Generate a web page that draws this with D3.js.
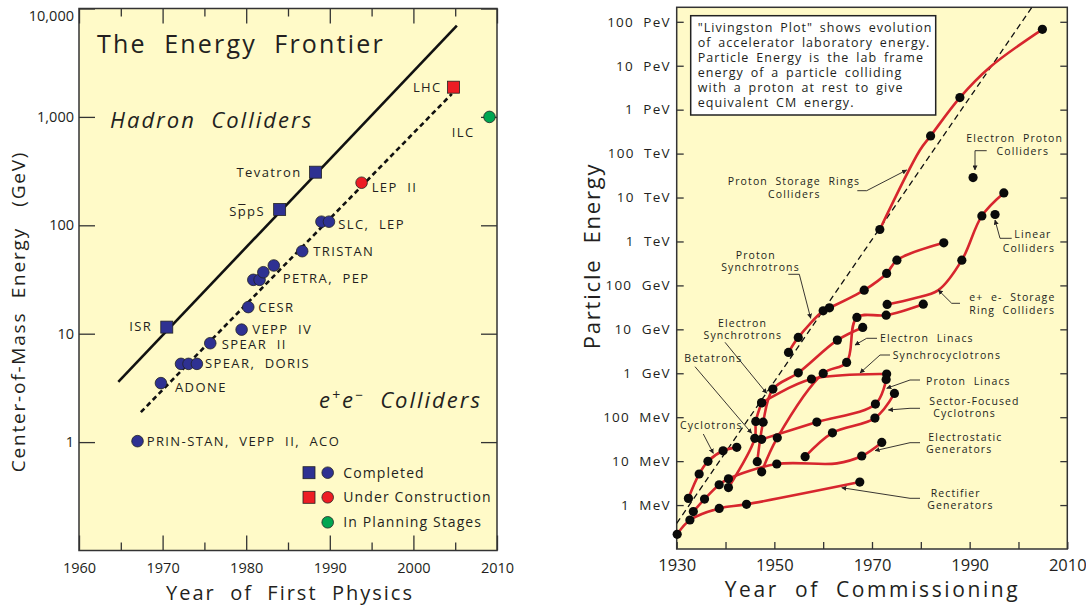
<!DOCTYPE html>
<html>
<head>
<meta charset="utf-8">
<script src="https://cdn.jsdelivr.net/npm/d3@7"></script>
<style>
  body { margin: 0; background: #fff; }
  text { font-family: "Open Sans", sans-serif; fill: #231f20; }
</style>
</head>
<body>
<svg id="chart" width="1086" height="605"></svg>
<script>
// ---------- left panel: the energy frontier ----------
const hadronNames = ["ISR", "SppS", "Tevatron", "LHC"];
const hadronYears = [1970.5, 1984.0, 1988.3, 2004.8];
const hadronGeV = [11.5, 140, 309, 1880];
const hadronStatus = ["done", "done", "done", "building"];

const leptonYears = [1967.0, 1969.8, 1972.2, 1973.1, 1974.1, 1975.7, 1979.45, 1980.25,
  1980.85, 1981.6, 1982.05, 1983.3, 1986.7, 1989.0, 1989.9, 1993.8, 2009.1];
const leptonGeV = [1.02, 3.5, 5.27, 5.27, 5.27, 8.17, 10.9, 17.6,
  31.4, 31.4, 36.9, 42.6, 57.7, 108, 108, 247, 1000];
const leptonStatus = ["done", "done", "done", "done", "done", "done", "done", "done",
  "done", "done", "done", "done", "done", "done", "done", "building", "planned"];

const hadronTrendYears = [1964.7, 2005.2];
const hadronTrendGeV = [3.6, 6950];
const leptonTrendYears = [1967.4, 2004.6];
const leptonTrendGeV = [1.89, 1633];

const frontierYearTicks = [1960, 1970, 1980, 1990, 2000, 2010];
const frontierMinorTicks = [1965, 1975, 1985, 1995, 2005];
const frontierGeVTicks = [1, 10, 100, 1000, 10000];
const frontierGeVLabels = ["1", "10", "100", "1,000", "10,000"];
const legendLabels = ["Completed", "Under Construction", "In Planning Stages"];

// ---------- right panel: livingston plot (year, MeV, 0 = no dot) ----------
const rectifierGenerators = [[1930.1, 0.216], [1932.7, 0.457], [1938.7, 0.84], [1944.3, 1.04], [1967.5, 3.34]];
const electrostaticGenerators = [[1933.4, 0.71], [1935.7, 1.37], [1938.7, 2.9], [1940.6, 3.97], [1950.5, 8.6],
  [1962.8, 8.9, 0], [1967.9, 13.1], [1972.0, 26.7]];
const cyclotrons = [[1932.4, 1.42], [1934.6, 5.1], [1936.4, 9.9], [1939.5, 17.2], [1942.3, 20.6]];
const betatrons = [[1940.6, 2.5], [1946.0, 33], [1946.2, 80], [1947.4, 213]];
const synchrocyclotrons = [[1947.4, 213], [1957.6, 736], [1973.0, 957]];
const electronSynchrotrons = [[1946.5, 9.7], [1947.7, 77], [1949.7, 436], [1954.9, 1025], [1962.9, 5680], [1968.1, 11040]];
const electronLinacs = [[1947.4, 5.7], [1950.6, 34], [1960.0, 993], [1964.8, 1766], [1966.9, 18660], [1972.9, 21000], [1980.5, 37400]];
const protonLinacs = [[1947.4, 31.3], [1958.7, 77.4], [1970.7, 199], [1972.9, 725]];
const sectorCyclotrons = [[1956.3, 12.6], [1961.9, 44.2], [1970.6, 95.5], [1974.6, 348]];
const protonSynchrotrons = [[1952.9, 2985], [1954.9, 6546], [1960.0, 26360], [1961.3, 30830], [1968.4, 78000],
  [1973.0, 187000], [1975.1, 375000], [1984.7, 929000]];
const protonStorageRings = [[1971.6, 1.87e6], [1979.8, 1.19e8, 0], [1982.0, 2.52e8], [1988.0, 1.88e9],
  [1994.2, 9.36e9, 0], [2004.9, 6.74e10]];
const eeStorageRings = [[1973.1, 36800], [1978.5, 50400, 0], [1983.6, 78000, 0], [1988.4, 375000], [1992.5, 3.82e6], [1997.0, 1.27e7]];
const electronProtonColliders = [[1990.7, 2.85e7]];
const linearColliders = [[1995.2, 4.11e6]];

const livingstonTrendYears = [1930, 2002.7];
const livingstonTrendMeV = [0.385, 2.1e11];

const commissionTicks = [1930, 1940, 1950, 1960, 1970, 1980, 1990, 2000, 2010];
const energyTicks = [1, 10, 100, 1e3, 1e4, 1e5, 1e6, 1e7, 1e8, 1e9, 1e10, 1e11];
const energyTickLabels = ["1  MeV", "10  MeV", "100  MeV", "1  GeV", "10  GeV", "100  GeV",
  "1  TeV", "10  TeV", "100  TeV", "1  PeV", "10  PeV", "100  PeV"];

const infoLines = ["\"Livingston Plot\" shows evolution", "of accelerator laboratory energy.",
  "Particle Energy is the lab frame", "energy of a particle colliding",
  "with a proton at rest to give", "equivalent CM energy."];

const bg = "#fffac8";
const ink = "#231f20";
const statusColor = { done: "#2e3192", building: "#ed1c24", planned: "#00a651" };
const curveRed = "#d7262e";

const svg = d3.select("#chart");
const defs = svg.append("defs");
defs.append("marker")
  .attr("id", "arrow")
  .attr("viewBox", "0 0 6 6")
  .attr("refX", 5.5).attr("refY", 3)
  .attr("markerWidth", 5).attr("markerHeight", 5)
  .attr("markerUnits", "userSpaceOnUse")
  .attr("orient", "auto")
  .append("path").attr("d", "M0,0 L6,3 L0,6 z").attr("fill", ink);

// ================= LEFT PANEL =================
const xL = d3.scaleLinear().domain([1960, 2010]).range([79, 497]);
const yL = d3.scaleLog().domain([0.1, 1e4]).range([550.5, 8.5]);
const gL = svg.append("g");

gL.append("rect")
  .attr("x", xL(1960)).attr("y", yL(1e4))
  .attr("width", xL(2010) - xL(1960)).attr("height", yL(0.1) - yL(1e4))
  .attr("fill", bg);

function styleAxis(g, size) {
  g.select(".domain").remove();
  g.selectAll("line").attr("stroke", "#333").attr("stroke-width", 1.3);
  g.selectAll("text").attr("fill", ink).style("font-family", "'Open Sans', sans-serif").style("font-size", size + "px");
}

gL.append("g").attr("transform", `translate(0,${yL(0.1)})`)
  .call(d3.axisBottom(xL).tickValues(frontierYearTicks).tickSize(-15).tickPadding(12).tickFormat(d3.format("d")))
  .call(g => styleAxis(g, 14.5));
gL.append("g").attr("transform", `translate(0,${yL(0.1)})`)
  .call(d3.axisBottom(xL).tickValues(frontierMinorTicks).tickSize(-8).tickFormat(""))
  .call(g => styleAxis(g, 14));
gL.append("g").attr("transform", `translate(0,${yL(1e4)})`)
  .call(d3.axisTop(xL).tickValues(frontierYearTicks).tickSize(-15).tickFormat(""))
  .call(g => styleAxis(g, 14));
gL.append("g").attr("transform", `translate(0,${yL(1e4)})`)
  .call(d3.axisTop(xL).tickValues(frontierMinorTicks).tickSize(-8).tickFormat(""))
  .call(g => styleAxis(g, 14));
gL.append("g").attr("transform", `translate(${xL(1960)},0)`)
  .call(d3.axisLeft(yL).tickValues(frontierGeVTicks).tickSize(-16).tickPadding(5)
    .tickFormat((d, i) => frontierGeVLabels[i]))
  .call(g => styleAxis(g, 14.5))
  .call(g => g.selectAll(".tick").filter(d => d === 1e4).select("text").attr("dy", "0.85em"));
gL.append("g").attr("transform", `translate(${xL(2010)},0)`)
  .call(d3.axisRight(yL).tickValues(frontierGeVTicks).tickSize(-16).tickFormat(""))
  .call(g => styleAxis(g, 14));

gL.append("rect")
  .attr("x", xL(1960)).attr("y", yL(1e4))
  .attr("width", xL(2010) - xL(1960)).attr("height", yL(0.1) - yL(1e4))
  .attr("fill", "none").attr("stroke", "#333").attr("stroke-width", 1.5);

const lineL = d3.line().x(d => xL(d[0])).y(d => yL(d[1]));
gL.append("path").datum(d3.zip(hadronTrendYears, hadronTrendGeV))
  .attr("d", lineL).attr("fill", "none").attr("stroke", "#111").attr("stroke-width", 2.6);
gL.append("path").datum(d3.zip(leptonTrendYears, leptonTrendGeV))
  .attr("d", lineL).attr("fill", "none").attr("stroke", "#111").attr("stroke-width", 2.6)
  .attr("stroke-dasharray", "5,3.5");

const hadrons = hadronNames.map((n, i) => ({ name: n, year: hadronYears[i], gev: hadronGeV[i], status: hadronStatus[i] }));
gL.selectAll("rect.hadron").data(hadrons).enter().append("rect")
  .attr("class", "hadron")
  .attr("x", d => xL(d.year) - 6).attr("y", d => yL(d.gev) - 6)
  .attr("width", 12).attr("height", 12)
  .attr("fill", d => statusColor[d.status]).attr("stroke", "#222").attr("stroke-width", 0.8);

const leptons = leptonYears.map((y, i) => ({ year: y, gev: leptonGeV[i], status: leptonStatus[i] }));
gL.selectAll("circle.lepton").data(leptons).enter().append("circle")
  .attr("class", "lepton")
  .attr("cx", d => xL(d.year)).attr("cy", d => yL(d.gev)).attr("r", 5.8)
  .attr("fill", d => statusColor[d.status]).attr("stroke", "#222").attr("stroke-width", 0.8);

function label(g, txt, x, y, anchor, size, spacing) {
  return g.append("text").attr("x", x).attr("y", y)
    .attr("text-anchor", anchor || "start")
    .style("font-size", (size || 13) + "px")
    .style("letter-spacing", (spacing === undefined ? 1.4 : spacing) + "px")
    .style("white-space", "pre")
    .text(txt);
}

label(gL, "The  Energy  Frontier", 97, 53, "start", 25, 2.2);
label(gL, "Hadron  Colliders", 110, 128, "start", 22, 2).style("font-style", "italic");
const ee = gL.append("text").attr("x", 319).attr("y", 408)
  .style("font-size", "22px").style("font-style", "italic").style("letter-spacing", "2px").style("white-space", "pre");
ee.append("tspan").text("e");
ee.append("tspan").attr("dy", -8).style("font-size", "14px").text("+");
ee.append("tspan").attr("dy", 8).text("e");
ee.append("tspan").attr("dy", -8).style("font-size", "14px").text("\u2212");
ee.append("tspan").attr("dy", 8).text("  Colliders");

label(gL, "Tevatron", 301.7, 176.7, "end");
label(gL, "LHC", 441.7, 91.7, "end");
label(gL, "ILC", 451.7, 136.7);
label(gL, "LEP  II", 371.7, 191.7);
// SppS with a bar over the first p
const sps = label(gL, "SppS", 265, 216, "end");
{
  const node = sps.node();
  const p0 = node.getStartPositionOfChar(1), p1 = node.getEndPositionOfChar(1);
  gL.append("line")
    .attr("x1", p0.x + 0.5).attr("x2", p1.x - 1.6)
    .attr("y1", 216 - 11.5).attr("y2", 216 - 11.5)
    .attr("stroke", ink).attr("stroke-width", 1);
}
label(gL, "SLC,  LEP", 338.3, 229.3);
label(gL, "TRISTAN", 313.3, 256);
label(gL, "PETRA,  PEP", 282.7, 283.3);
label(gL, "CESR", 258.3, 311.7);
label(gL, "VEPP  IV", 252.3, 334);
label(gL, "SPEAR  II", 221.7, 349.3);
label(gL, "SPEAR,  DORIS", 205, 368.3);
label(gL, "ADONE", 175, 391.7);
label(gL, "PRIN-STAN,  VEPP  II,  ACO", 146.7, 446);
label(gL, "ISR", 152.3, 330.7, "end");

// legend
const legendRowsY = [472.7, 497.3, 522.3];
const legendSquare = ["done", "building", null];
const legendCircle = ["done", "building", "planned"];
legendLabels.forEach((t, i) => {
  if (legendSquare[i]) {
    gL.append("rect").attr("x", 303).attr("y", legendRowsY[i] - 6).attr("width", 12).attr("height", 12)
      .attr("fill", statusColor[legendSquare[i]]).attr("stroke", "#222").attr("stroke-width", 0.8);
  }
  gL.append("circle").attr("cx", 327.7).attr("cy", legendRowsY[i]).attr("r", 5.8)
    .attr("fill", statusColor[legendCircle[i]]).attr("stroke", "#222").attr("stroke-width", 0.8);
  label(gL, t, 343.3, legendRowsY[i] + 5, "start", 14, 1.1);
});

label(gL, "Year  of  First  Physics", 290, 600, "middle", 20, 2);
label(gL, "Center-of-Mass  Energy   (GeV)", 0, 0, "middle", 19, 1.8)
  .attr("transform", "translate(25,311.5) rotate(-90)");

// ================= RIGHT PANEL =================
const xR = d3.scaleLinear().domain([1930, 2010]).range([676.7, 1067.3]);
const yR = d3.scaleLog().domain([0.1, Math.pow(10, 11.33)]).range([549, 7.3]);
const gR = svg.append("g");

gR.append("rect")
  .attr("x", xR(1930)).attr("y", yR.range()[1])
  .attr("width", xR(2010) - xR(1930)).attr("height", yR.range()[0] - yR.range()[1])
  .attr("fill", bg);

gR.append("g").attr("transform", `translate(0,${yR.range()[0]})`)
  .call(d3.axisBottom(xR).tickValues(commissionTicks).tickSize(-7).tickPadding(10)
    .tickFormat(d => (d % 20 === 10 ? d : "")))
  .call(g => styleAxis(g, 16.5));
gR.append("g").attr("transform", `translate(${xR(1930)},0)`)
  .call(d3.axisLeft(yR).tickValues(energyTicks).tickSize(-7).tickPadding(6)
    .tickFormat((d, i) => energyTickLabels[i]))
  .call(g => styleAxis(g, 13.5))
  .call(g => g.selectAll("text").style("letter-spacing", "1.2px").style("white-space", "pre"));
gR.append("g").attr("transform", `translate(${xR(2010)},0)`)
  .call(d3.axisRight(yR).tickValues(energyTicks).tickSize(-7).tickFormat(""))
  .call(g => styleAxis(g, 13));

gR.append("rect")
  .attr("x", xR(1930)).attr("y", yR.range()[1])
  .attr("width", xR(2010) - xR(1930)).attr("height", yR.range()[0] - yR.range()[1])
  .attr("fill", "none").attr("stroke", "#333").attr("stroke-width", 1.5);

defs.append("clipPath").attr("id", "clipR").append("rect")
  .attr("x", xR(1930)).attr("y", yR.range()[1])
  .attr("width", xR(2010) - xR(1930)).attr("height", yR.range()[0] - yR.range()[1]);

const lineTrend = d3.line().x(d => xR(d[0])).y(d => yR(d[1]));
gR.append("path").datum(d3.zip(livingstonTrendYears, livingstonTrendMeV))
  .attr("clip-path", "url(#clipR)")
  .attr("d", lineTrend).attr("fill", "none").attr("stroke", "#111").attr("stroke-width", 1.3)
  .attr("stroke-dasharray", "6,4");

const families = [rectifierGenerators, electrostaticGenerators, cyclotrons, betatrons, synchrocyclotrons,
  electronSynchrotrons, electronLinacs, protonLinacs, sectorCyclotrons, protonSynchrotrons,
  protonStorageRings, eeStorageRings];
const curveR = d3.line().x(d => xR(d[0])).y(d => yR(d[1])).curve(d3.curveCatmullRom.alpha(0.5));
gR.append("g").selectAll("path").data(families).enter().append("path")
  .attr("d", curveR).attr("fill", "none").attr("stroke", curveRed).attr("stroke-width", 2.6)
  .attr("stroke-linecap", "round");

const dots = families.concat([electronProtonColliders, linearColliders]).flat().filter(d => d[2] !== 0);
gR.append("g").selectAll("circle").data(dots).enter().append("circle")
  .attr("cx", d => xR(d[0])).attr("cy", d => yR(d[1])).attr("r", 4.6).attr("fill", "#0a0a0a");

// info box
gR.append("rect").attr("x", 690.7).attr("y", 15.7).attr("width", 245).attr("height", 99.3)
  .attr("fill", "#fff").attr("stroke", "#222").attr("stroke-width", 1.5);
infoLines.forEach((t, i) => label(gR, t, 697.7, 31.7 + i * 15, "start", 12.5, 1.05)
  .style("word-spacing", "2.5px"));

// curve labels and pointers
const rl = (t, x, y, a) => label(gR, t, x, y, a || "start", 10.5, 1.1);
function pointer(pts) {
  gR.append("path").attr("d", d3.line()(pts)).attr("fill", "none")
    .attr("stroke", ink).attr("stroke-width", 0.9).attr("marker-end", "url(#arrow)");
}
rl("Electron  Proton", 1014.7, 141.7, "middle");
rl("Colliders", 1022.8, 155, "middle");
pointer([[986.7, 150.7], [975, 150.7], [975, 170]]);

rl("Proton  Storage  Rings", 794, 185, "middle");
rl("Colliders", 794.3, 197.5, "middle");
pointer([[857.3, 190.7], [866.7, 190.7], [906.7, 170]]);

rl("Proton", 755.8, 259, "middle");
rl("Synchrotrons", 760.5, 271, "middle");
pointer([[788.3, 274.3], [799.3, 274.3], [810.7, 318.3]]);

rl("Electron", 742.5, 327, "middle");
rl("Synchrotrons", 742.8, 339, "middle");
pointer([[725, 342.3], [766.7, 393.3]]);

rl("Betatrons", 684.3, 361.7);
pointer([[695, 366.7], [751.7, 433.3]]);

rl("Cyclotrons", 680, 429);
pointer([[703.3, 434], [713.3, 453.3]]);

rl("Electron  Linacs", 880, 341.7);
pointer([[877, 338.3], [866.7, 338.3], [855, 345]]);

rl("Synchrocyclotrons", 892.7, 359.3);
pointer([[890, 355], [880, 355], [860, 373]]);

rl("Proton  Linacs", 926, 385);
pointer([[920, 380], [910, 380], [886.7, 388.3]]);

rl("Sector-Focused", 929.3, 405);
rl("Cyclotrons", 933.3, 417);
pointer([[920, 408.3], [910, 408.3], [888.3, 410]]);

rl("Electrostatic", 928.3, 440.5);
rl("Generators", 926, 452.5);
pointer([[920, 442.7], [910, 442.7], [875, 450.7]]);

rl("Rectifier", 930.7, 497);
rl("Generators", 927.3, 509);
pointer([[920, 498.3], [910, 498.3], [841.7, 487.7]]);

rl("Linear", 1014.3, 238.3);
rl("Colliders", 1002.7, 252.3);
pointer([[1011.7, 238.3], [1000, 238.3], [995, 220]]);

rl("e+  e-  Storage", 969.3, 301);
rl("Ring  Colliders", 969.3, 313.5);
pointer([[960, 303.3], [951.7, 303.3], [938.3, 290]]);

label(gR, "Year  of  Commissioning", 872.5, 597, "middle", 21, 2.6);
label(gR, "Particle  Energy", 0, 0, "middle", 22, 1.8)
  .attr("transform", "translate(600,256) rotate(-90)");
</script>
</body>
</html>
